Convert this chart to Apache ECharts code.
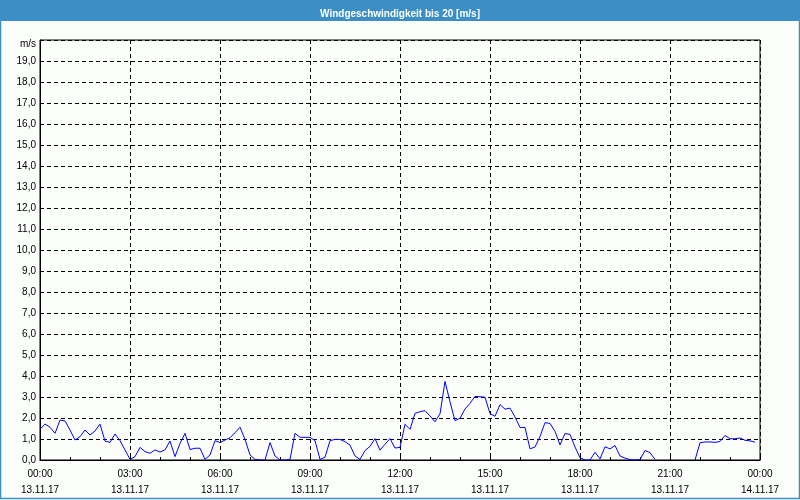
<!DOCTYPE html>
<html>
<head>
<meta charset="utf-8">
<script src="https://cdn.jsdelivr.net/npm/echarts@6/dist/echarts.min.js"></script>
<style>
html,body{margin:0;padding:0;background:#fcfefc;}
#c{width:800px;height:500px;}
</style>
</head>
<body>
<div id="c"></div>
<script>
// wind speed every 10 minutes, 13.11.17 00:00 .. 23:50 (null = no line drawn)
const windValues = [
  1.46, 1.71, 1.56, 1.27, 1.90, 1.86, 1.43, 0.95, 1.11, 1.43, 1.19, 1.38,
  1.71, 0.90, 0.84, 1.24, 0.92, 0.48, 0.03, 0.16, 0.60, 0.40, 0.32, 0.48,
  0.38, 0.48, 0.90, 0.16, 0.79, 1.27, 0.50, 0.56, 0.56, 0.03, 0.24, 0.92,
  0.83, 0.95, 1.06, 1.30, 1.56, 0.98, 0.24, 0.03, 0.00, 0.00, 0.83, 0.19,
  0.00, 0.00, 0.03, 1.27, 1.08, 1.08, 1.08, 0.92, 0.03, 0.13, 0.92, 0.98,
  0.98, 0.87, 0.71, 0.19, 0.03, 0.45, 0.65, 1.02, 0.47, 0.75, 1.02, 0.57,
  0.60, 1.70, 1.46, 2.22, 2.30, 2.35, 2.10, 1.82, 2.20, 3.74, 2.77, 1.87,
  1.99, 2.43, 2.70, 3.03, 3.01, 2.99, 2.21, 2.08, 2.64, 2.42, 2.47, 2.05,
  1.55, 1.55, 0.53, 0.62, 1.12, 1.78, 1.74, 1.36, 0.72, 1.26, 1.22, 0.62,
  0.11, 0.00, 0.00, 0.37, 0.05, 0.63, 0.53, 0.69, 0.19, 0.09, 0.02, 0.00,
  0.02, 0.45, 0.35, 0.03, null, null, null, null, null, null, null, 0.00,
  0.82, 0.86, 0.86, 0.84, 0.88, 1.17, 1.01, 1.01, 1.05, 0.94, 0.91, 0.85
];
const stepMinutes = 10;
const xTickTimes = ['00:00','03:00','06:00','09:00','12:00','15:00','18:00','21:00','00:00'];
const xTickDates = ['13.11.17','13.11.17','13.11.17','13.11.17','13.11.17','13.11.17','13.11.17','13.11.17','14.11.17'];
const yMax = 20;
const titleText = 'Windgeschwindigkeit bis 20 [m/s]';
const unitText = 'm/s';

const seriesData = windValues.map((v, i) => [i * stepMinutes, v]);

const chart = echarts.init(document.getElementById('c'), null, {renderer: 'canvas'});
const font = '"Liberation Sans", Arial, sans-serif';
chart.setOption({
  animation: false,
  backgroundColor: '#fcfefc',
  graphic: [
    {type: 'rect', z: -10, shape: {x: 0, y: 0, width: 800, height: 21}, style: {fill: '#3c8fc4'}},
    {type: 'rect', z: -10, shape: {x: 0.5, y: 0.5, width: 799, height: 498}, style: {fill: 'none', stroke: '#3c8fc4', lineWidth: 1.5}}
  ],
  title: {
    text: titleText, left: 'center', top: 4,
    textStyle: {color: '#ffffff', fontSize: 10, fontWeight: 'bold', fontFamily: font}
  },
  grid: {left: 40, right: 40, top: 40, bottom: 40, outerBoundsMode: 'none', containLabel: false,
         show: true, borderColor: '#000', borderWidth: 1, backgroundColor: 'transparent'},
  xAxis: {
    type: 'value', min: 0, max: 1440, interval: 180,
    axisLine: {lineStyle: {color: '#000', width: 1}},
    axisTick: {show: true, inside: true, length: 3, lineStyle: {color: '#000'}},
    minorTick: {show: true, splitNumber: 3, length: 3, lineStyle: {color: '#000'}},
    splitLine: {show: true, lineStyle: {color: '#000', type: [4, 3], width: 1}},
    axisLabel: {
      color: '#000', fontSize: 10, fontFamily: font, lineHeight: 16, margin: 6,
      formatter: (v) => { const k = Math.round(v / 180); return xTickTimes[k] + '\n' + xTickDates[k]; }
    }
  },
  yAxis: {
    type: 'value', min: 0, max: yMax, interval: 1,
    axisLine: {show: true, lineStyle: {color: '#000', width: 1}},
    axisTick: {show: false},
    splitLine: {show: true, lineStyle: {color: '#000', type: [4, 3], width: 1}},
    axisLabel: {
      color: '#000', fontSize: 10, fontFamily: font, margin: 4,
      formatter: (v) => v === yMax ? '{u|' + unitText + '}' : v.toFixed(1).replace('.', ','),
      rich: {u: {fontSize: 10, fontFamily: font, color: '#000', padding: [8, 0, 0, 0]}}
    }
  },
  series: [{
    type: 'line', data: seriesData, showSymbol: false, connectNulls: false,
    lineStyle: {color: '#0000ff', width: 1}, itemStyle: {color: '#0000ff'}
  }]
});
</script>
</body>
</html>
